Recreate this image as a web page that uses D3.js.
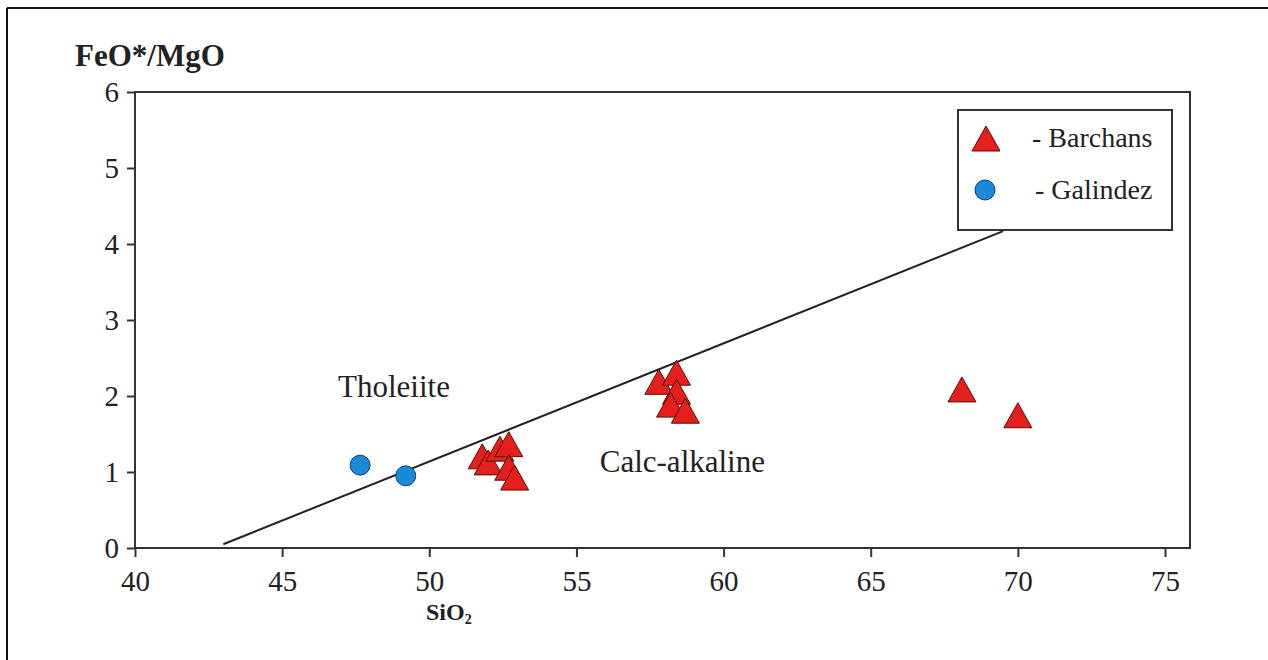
<!DOCTYPE html>
<html>
<head>
<meta charset="utf-8">
<script src="https://cdn.jsdelivr.net/npm/d3@7"></script>
<style>
  body { margin: 0; background: #fff; }
  text { font-family: "Liberation Serif", "DejaVu Serif", serif; fill: #222; }
</style>
</head>
<body>
<div id="chart"></div>
<script>
// Barchans samples (SiO2, FeO*/MgO)
const barchansSiO2 = [51.8, 52.0, 52.4, 52.7, 52.7, 52.9, 57.8, 58.4, 58.4, 58.2, 58.7, 68.1, 70.0];
const barchansRatio = [1.20, 1.12, 1.30, 1.36, 1.05, 0.92, 2.18, 2.30, 2.05, 1.88, 1.80, 2.08, 1.74];
// Galindez samples
const galindezSiO2 = [47.65, 49.2];
const galindezRatio = [1.09, 0.95];
// tholeiite / calc-alkaline divider (end points)
const dividerSiO2 = [43.0, 69.5];
const dividerRatio = [0.05, 4.17];

const xTicks = [40, 45, 50, 55, 60, 65, 70, 75];
const yTicks = [0, 1, 2, 3, 4, 5, 6];

const width = 1268, height = 660;
const plotL = 135, plotR = 1190, plotT = 92, plotB = 548;

const svg = d3.select("#chart").append("svg").attr("width", width).attr("height", height);

// outer frame (only left and top visible)
svg.append("line").attr("x1", 7).attr("y1", 8).attr("x2", 7).attr("y2", height).attr("stroke", "#111").attr("stroke-width", 2);
svg.append("line").attr("x1", 7).attr("y1", 8).attr("x2", width).attr("y2", 8).attr("stroke", "#111").attr("stroke-width", 2);

const x = d3.scaleLinear().domain([40, 75]).range([plotL, 1165]);
const y = d3.scaleLinear().domain([0, 6]).range([plotB, plotT]);

// plot box
svg.append("rect").attr("x", plotL).attr("y", plotT).attr("width", plotR - plotL).attr("height", plotB - plotT)
  .attr("fill", "none").attr("stroke", "#333").attr("stroke-width", 2);

// axes
const xAxis = svg.append("g").attr("transform", `translate(0,${plotB})`)
  .call(d3.axisBottom(x).tickValues(xTicks).tickFormat(d3.format("d")).tickSize(9).tickPadding(13));
const yAxis = svg.append("g").attr("transform", `translate(${plotL},0)`)
  .call(d3.axisLeft(y).tickValues(yTicks).tickFormat(d3.format("d")).tickSize(8).tickPadding(8));
[xAxis, yAxis].forEach(a => {
  a.select(".domain").remove();
  a.selectAll(".tick line").attr("stroke", "#333").attr("stroke-width", 2);
  a.selectAll(".tick text").style("font-family", "Liberation Serif").style("font-size", "29px").attr("fill", "#222");
});

// axis titles
svg.append("text").attr("x", 75).attr("y", 66).style("font-size", "31px").style("font-weight", "bold").text("FeO*/MgO");
const sio = svg.append("text").attr("x", 426).attr("y", 620).style("font-size", "24px").style("font-weight", "bold");
sio.append("tspan").text("SiO");
sio.append("tspan").attr("dy", 4).style("font-size", "14px").text("2");

// divider line
svg.append("line")
  .attr("x1", x(dividerSiO2[0])).attr("y1", y(dividerRatio[0]))
  .attr("x2", x(dividerSiO2[1])).attr("y2", y(dividerRatio[1]))
  .attr("stroke", "#222").attr("stroke-width", 2);

// field labels
svg.append("text").attr("x", x(48.8)).attr("y", y(2.12) + 10).attr("text-anchor", "middle").style("font-size", "31px").text("Tholeiite");
svg.append("text").attr("x", x(58.6)).attr("y", y(1.13) + 10).attr("text-anchor", "middle").style("font-size", "31px").text("Calc-alkaline");

const tri = "M0,-13L14,12L-14,12Z";

// Galindez circles
svg.append("g").selectAll("circle").data(d3.range(galindezSiO2.length)).join("circle")
  .attr("cx", i => x(galindezSiO2[i])).attr("cy", i => y(galindezRatio[i])).attr("r", 10)
  .attr("fill", "#1a8ad8").attr("stroke", "#0d3f6e").attr("stroke-width", 1);

// Barchans triangles
svg.append("g").selectAll("path").data(d3.range(barchansSiO2.length)).join("path")
  .attr("d", tri)
  .attr("transform", i => `translate(${x(barchansSiO2[i])},${y(barchansRatio[i])})`)
  .attr("fill", "#e3201c").attr("stroke", "#5a0d0a").attr("stroke-width", 1);

// legend
const lg = svg.append("g");
lg.append("rect").attr("x", 958).attr("y", 110).attr("width", 214).attr("height", 120)
  .attr("fill", "#fff").attr("stroke", "#333").attr("stroke-width", 2);
lg.append("path").attr("d", tri).attr("transform", "translate(986,139)").attr("fill", "#e3201c").attr("stroke", "#5a0d0a");
lg.append("text").attr("x", 1032).attr("y", 147).style("font-size", "28px").text("- Barchans");
lg.append("circle").attr("cx", 985).attr("cy", 190).attr("r", 10).attr("fill", "#1a8ad8").attr("stroke", "#0d3f6e");
lg.append("text").attr("x", 1035).attr("y", 199).style("font-size", "28px").text("- Galindez");
</script>
</body>
</html>
